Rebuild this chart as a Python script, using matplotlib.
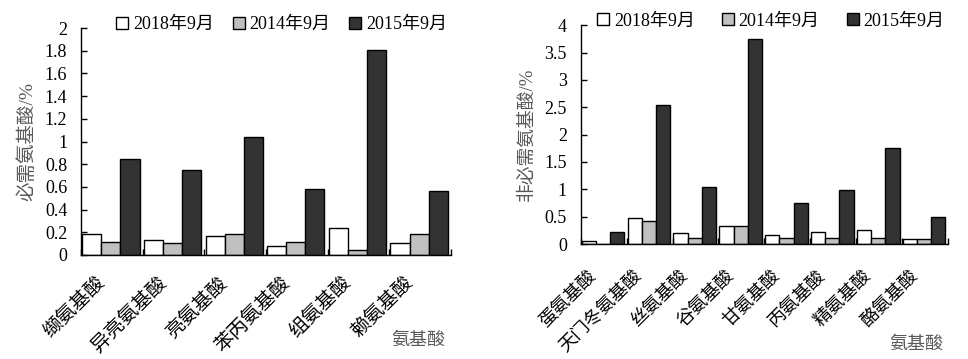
import numpy as np
import matplotlib
matplotlib.use("Agg")
import matplotlib.pyplot as plt

plt.rcParams['font.family'] = ['Liberation Serif', 'Noto Sans CJK SC']
plt.rcParams['axes.unicode_minus'] = False

# data
series = ['2018年9月', '2014年9月', '2015年9月']
colors = ['white', '#c0c0c0', '#333333']

ess_names = ['缬氨基酸', '异亮氨基酸', '亮氨基酸', '苯丙氨基酸', '组氨基酸', '赖氨基酸']
ess_2018 = [0.185, 0.132, 0.167, 0.079, 0.238, 0.106]
ess_2014 = [0.115, 0.106, 0.185, 0.115, 0.044, 0.185]
ess_2015 = [0.846, 0.749, 1.04, 0.58, 1.806, 0.564]

non_names = ['蛋氨基酸', '天门冬氨基酸', '丝氨基酸', '谷氨基酸', '甘氨基酸', '丙氨基酸', '精氨基酸', '酪氨基酸']
non_2018 = [0.055, 0.476, 0.2, 0.33, 0.165, 0.22, 0.256, 0.092]
non_2014 = [0.0, 0.424, 0.11, 0.33, 0.11, 0.11, 0.11, 0.09]
non_2015 = [0.22, 2.535, 1.04, 3.74, 0.753, 0.988, 1.75, 0.494]

ess_yticks = [0, 0.2, 0.4, 0.6, 0.8, 1, 1.2, 1.4, 1.6, 1.8, 2]
ess_ylabels = ['0', '0.2', '0.4', '0.6', '0.8', '1', '1.2', '1.4', '1.6', '1.8', '2']
non_yticks = [0, 0.5, 1, 1.5, 2, 2.5, 3, 3.5, 4]
non_ylabels = ['0', '0.5', '1', '1.5', '2', '2.5', '3', '3.5', '4']

FS = 13
GRAY = '#595959'

fig = plt.figure(figsize=(9.68, 3.59), dpi=100)
ax1 = fig.add_axes([0.0837, 0.2897, 0.382, 0.632])
ax2 = fig.add_axes([0.600, 0.320, 0.379, 0.610])


def draw(ax, names, vals, yticks, ylabels, ylabel, leg_xy, colsp,
         cat_fs, cat_pad, cat_dx, ylab_fs, ylab_pad):
    n = len(names)
    x = np.arange(n)
    w = 0.31
    for j, (v, c, s) in enumerate(zip(vals, colors, series)):
        ax.bar(x + 0.02 + j * w, v, width=w, align='edge', color=c,
               edgecolor='black', linewidth=1, label=s)
    ax.set_xlim(0, n)
    ax.set_ylim(yticks[0], yticks[-1])
    ax.spines['top'].set_visible(False)
    ax.spines['right'].set_visible(False)
    ax.spines['left'].set_linewidth(1)
    ax.spines['bottom'].set_linewidth(1)
    ax.set_xticks(np.arange(n + 1))
    ax.set_xticklabels([])
    ax.tick_params(axis='x', which='major', direction='in', length=4, width=1)
    # invisible minor ticks carry the rotated names, nudged left
    ax.set_xticks(x + 0.5 + cat_dx, minor=True)
    ax.set_xticklabels(names, minor=True, rotation=45, ha='right',
                       va='center', rotation_mode='anchor', fontsize=cat_fs)
    ax.tick_params(axis='x', which='minor', length=0, pad=cat_pad)
    ax.set_yticks(yticks)
    ax.set_yticklabels(ylabels, fontsize=FS)
    ax.tick_params(axis='y', direction='in', length=4, width=1, pad=10)
    ax.set_ylabel(ylabel, fontsize=ylab_fs, color=GRAY, labelpad=ylab_pad)
    ax.legend(loc='upper left', bbox_to_anchor=leg_xy,
              bbox_transform=fig.transFigure, ncol=3, frameon=False,
              fontsize=FS, handlelength=0.67, handleheight=0.67,
              handletextpad=0.25, columnspacing=colsp, borderpad=0,
              borderaxespad=0)


draw(ax1, ess_names, [ess_2018, ess_2014, ess_2015], ess_yticks, ess_ylabels,
     '必需氨基酸/%', (0.120, 0.955), 1.05, 14, 18, -0.16, 14, 6)
draw(ax2, non_names, [non_2018, non_2014, non_2015], non_yticks, non_ylabels,
     '非必需氨基酸/%', (0.617, 0.965), 1.5, 13, 21, -0.22, 13.5, 6)

fig.text(0.46, 0.053, '氨基酸', fontsize=FS, color=GRAY, ha='right', va='center')
fig.text(0.975, 0.04, '氨基酸', fontsize=FS, color=GRAY, ha='right', va='center')

fig.savefig('out.png', dpi=100)
